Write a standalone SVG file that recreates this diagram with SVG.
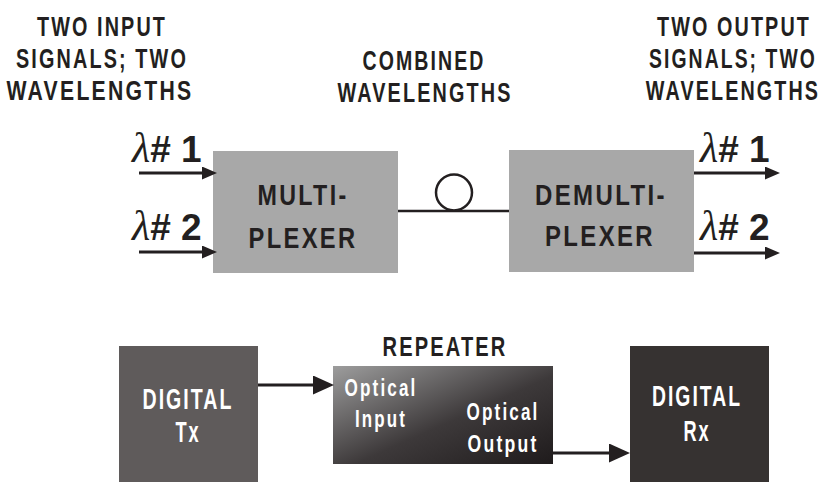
<svg xmlns="http://www.w3.org/2000/svg" width="828" height="482" viewBox="0 0 828 482">
  <style>
    .hdr { font-family: "Liberation Sans", Arial, sans-serif; font-weight: bold; font-size: 28px; letter-spacing: 3px; fill: #231f20; text-anchor: middle; }
    .box-lbl { font-family: "Liberation Sans", Arial, sans-serif; font-weight: bold; font-size: 30px; letter-spacing: 3px; fill: #231f20; text-anchor: middle; }
    .inv-lbl { font-family: "Liberation Sans", Arial, sans-serif; font-weight: bold; font-size: 29px; letter-spacing: 3px; fill: #ffffff; text-anchor: middle; }
    .opt-lbl { font-family: "Liberation Sans", Arial, sans-serif; font-weight: bold; font-size: 24px; letter-spacing: 3px; fill: #ffffff; text-anchor: middle; }
    .lam { font-family: "Liberation Sans", Arial, sans-serif; font-weight: bold; font-size: 37px; fill: #231f20; }
    .lam .sym { font-family: "Liberation Serif", "DejaVu Serif", serif; font-style: italic; font-weight: normal; font-size: 42px; }
    .wdm { fill: #a8a8a8; }
    .wire { stroke: #231f20; stroke-width: 3; fill: none; }
    .fiber { stroke: #231f20; stroke-width: 2.5; fill: none; }
  </style>
  <defs>
    <marker id="headSm" markerUnits="userSpaceOnUse" markerWidth="16" markerHeight="14" refX="0" refY="6.5" orient="auto">
      <path d="M0,0 L15,6.5 L0,13 z" fill="#231f20"/>
    </marker>
    <marker id="headLg" markerUnits="userSpaceOnUse" markerWidth="22" markerHeight="20" refX="0" refY="9.5" orient="auto">
      <path d="M0,0 L21,9.5 L0,19 z" fill="#231f20"/>
    </marker>
    <linearGradient id="repGrad" x1="0" y1="0" x2="1" y2="1">
      <stop offset="0" stop-color="#9d9d9d"/>
      <stop offset="0.55" stop-color="#3d393a"/>
      <stop offset="1" stop-color="#1f1b1c"/>
    </linearGradient>
  </defs>

  <!-- headings -->
  <g id="hdr-in">
    <text class="hdr" x="102" y="36" textLength="130" lengthAdjust="spacingAndGlyphs">TWO INPUT</text>
    <text class="hdr" x="102" y="68" textLength="172" lengthAdjust="spacingAndGlyphs">SIGNALS; TWO</text>
    <text class="hdr" x="100" y="100" textLength="187" lengthAdjust="spacingAndGlyphs">WAVELENGTHS</text>
  </g>
  <g id="hdr-mid">
    <text class="hdr" x="424" y="70" textLength="123" lengthAdjust="spacingAndGlyphs">COMBINED</text>
    <text class="hdr" x="425" y="102" textLength="175" lengthAdjust="spacingAndGlyphs">WAVELENGTHS</text>
  </g>
  <!-- narrowed by a horizontal scale so the block stays inside the right edge -->
  <g id="hdr-out" transform="translate(733,0) scale(0.7,1)">
    <text class="hdr" x="1.4" y="36" textLength="220" lengthAdjust="spacingAndGlyphs">TWO OUTPUT</text>
    <text class="hdr" x="0" y="68" textLength="240" lengthAdjust="spacingAndGlyphs">SIGNALS; TWO</text>
    <text class="hdr" x="0" y="100" textLength="249" lengthAdjust="spacingAndGlyphs">WAVELENGTHS</text>
  </g>

  <!-- wavelength labels -->
  <g id="lam-in">
    <text class="lam" x="132" y="162"><tspan class="sym">λ</tspan># 1</text>
    <text class="lam" x="132" y="240"><tspan class="sym">λ</tspan># 2</text>
  </g>
  <g id="lam-out">
    <text class="lam" x="700" y="162"><tspan class="sym">λ</tspan># 1</text>
    <text class="lam" x="700" y="240"><tspan class="sym">λ</tspan># 2</text>
  </g>

  <!-- WDM nodes -->
  <g id="mux">
    <rect class="wdm" x="213" y="151" width="185" height="122"/>
    <text class="box-lbl" x="303" y="205" textLength="91" lengthAdjust="spacingAndGlyphs">MULTI-</text>
    <text class="box-lbl" x="303" y="248" textLength="109" lengthAdjust="spacingAndGlyphs">PLEXER</text>
  </g>
  <g id="demux">
    <rect class="wdm" x="509" y="150" width="185" height="122"/>
    <text class="box-lbl" x="601" y="205" textLength="132" lengthAdjust="spacingAndGlyphs">DEMULTI-</text>
    <text class="box-lbl" x="600" y="246" textLength="110" lengthAdjust="spacingAndGlyphs">PLEXER</text>
  </g>

  <!-- repeater link nodes -->
  <g id="tx">
    <rect x="119" y="346" width="139" height="136" fill="#5f5b5b"/>
    <text class="inv-lbl" x="188" y="409" textLength="91" lengthAdjust="spacingAndGlyphs">DIGITAL</text>
    <text class="inv-lbl" x="188" y="442" textLength="25" lengthAdjust="spacingAndGlyphs">Tx</text>
  </g>
  <g id="repeater">
    <text class="hdr" x="445" y="356" textLength="125" lengthAdjust="spacingAndGlyphs">REPEATER</text>
    <rect x="333" y="366" width="220" height="98" fill="url(#repGrad)"/>
    <text class="opt-lbl" x="381" y="396" textLength="73" lengthAdjust="spacingAndGlyphs">Optical</text>
    <text class="opt-lbl" x="381" y="427" textLength="52" lengthAdjust="spacingAndGlyphs">Input</text>
    <text class="opt-lbl" x="503" y="420" textLength="73" lengthAdjust="spacingAndGlyphs">Optical</text>
    <text class="opt-lbl" x="503" y="452" textLength="71" lengthAdjust="spacingAndGlyphs">Output</text>
  </g>
  <g id="rx">
    <rect x="630" y="346" width="139" height="136" fill="#363231"/>
    <text class="inv-lbl" x="697" y="406" textLength="90" lengthAdjust="spacingAndGlyphs">DIGITAL</text>
    <text class="inv-lbl" x="697" y="441" textLength="27" lengthAdjust="spacingAndGlyphs">Rx</text>
  </g>

  <!-- connectors -->
  <g id="connectors">
    <line class="wire" x1="139" y1="173" x2="202" y2="173" marker-end="url(#headSm)"/>
    <line class="wire" x1="139" y1="252" x2="202" y2="252" marker-end="url(#headSm)"/>
    <line class="wire" x1="694" y1="173" x2="765" y2="173" marker-end="url(#headSm)"/>
    <line class="wire" x1="694" y1="253" x2="765" y2="253" marker-end="url(#headSm)"/>
    <line class="fiber" x1="398" y1="211" x2="509" y2="211"/>
    <circle class="fiber" cx="454" cy="192.5" r="18"/>
    <line class="wire" x1="258" y1="385" x2="313" y2="385" marker-end="url(#headLg)"/>
    <line class="wire" x1="553" y1="453" x2="609" y2="453" marker-end="url(#headLg)"/>
  </g>
</svg>
